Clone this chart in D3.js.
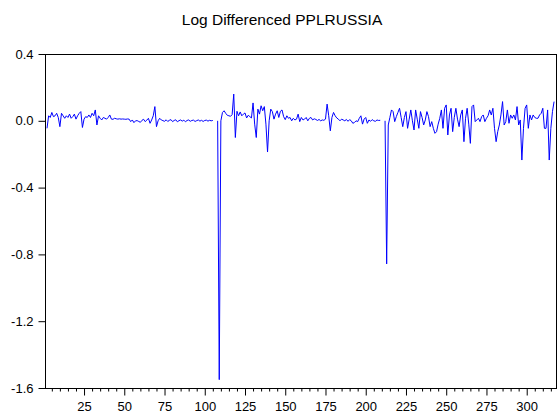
<!DOCTYPE html>
<html>
<head>
<meta charset="utf-8">
<script src="https://cdn.jsdelivr.net/npm/d3@7"></script>
<style>
  html, body { margin: 0; padding: 0; background: #fff; }
  svg { display: block; }
  text { font-family: "Liberation Sans", Arial, sans-serif; }
</style>
</head>
<body>
<svg id="chart" width="558" height="417"></svg>
<script>
const titleText = "Log Differenced PPLRUSSIA";
const obsStart = 1;
const obsValues = [
  null,
  -0.045, 0.03, 0.02, 0.05, 0.025, 0.03, 0.045, 0.02, -0.035,
  0.045, 0.03, 0.015, 0.03, 0.02, 0.04, 0.015, 0.025, 0.04, 0.01,
  0.03, 0.045, 0.055, -0.04, 0.01, 0.025, 0.02, 0.035, 0.02, 0.045,
  0.03, 0.065, -0.025, 0.03, 0.015, 0.005, 0.02, 0.015, 0.01, 0.02,
  0.035, 0.01, 0.009, 0.015, 0.012, 0.01, 0.012, 0.01, 0.011, 0.01,
  0.009, 0.011, 0.01, -0.005, 0.005, -0.011, 0.0, 0.001, -0.004, -0.009,
  0.003, 0.009, -0.005, 0.004, 0.015, -0.015, 0.005, 0.03, 0.085, -0.035,
  0.0, 0.015, 0.005, 0.001, -0.003, 0.006, -0.004, 0.003, 0.007, -0.005,
  0.002, 0.006, -0.006, 0.001, 0.005, -0.002, 0.004, -0.006, 0.002, 0.005,
  -0.003, 0.002, 0.004, -0.004, 0.001, 0.005, -0.002, 0.003, -0.004, 0.002,
  0.004, -0.002, 0.003, 0.0, 0.002,
  null, null,
  0.0, -1.55, 0.0,
  0.05, 0.06, 0.045, 0.033, 0.03, 0.027, 0.037, 0.16, -0.1, 0.057,
  0.03, 0.053, 0.03, 0.04, 0.047, 0.017, 0.033, 0.025, 0.017, 0.107,
  -0.02, -0.1, 0.07, 0.04, 0.09, 0.06, 0.085, -0.02, -0.187, 0.0,
  0.07, 0.055, 0.01, 0.04, 0.06, 0.02, 0.057, 0.065, 0.025, 0.007,
  0.03, 0.015, 0.02, 0.0, 0.015, 0.005, 0.01, 0.04, -0.005, 0.02,
  0.005, 0.01, 0.02, 0.0, 0.015, 0.02, 0.005, 0.012, 0.008, 0.002,
  0.008, 0.0, 0.005, 0.003, 0.01, 0.1, 0.03, -0.06, 0.02, 0.05,
  0.03, 0.017, 0.01, 0.0, 0.01, 0.005, 0.0, 0.008, -0.003, 0.007,
  0.0, -0.015, -0.01, 0.0, -0.005, 0.015, 0.03, -0.02, 0.01, 0.02,
  -0.015, 0.005, -0.003, 0.007, 0.0, -0.003, 0.005, 0.002, 0.003,
  null, null,
  0.0, -0.857, -0.025, 0.02, 0.065, 0.055, -0.005, 0.025, 0.05,
  0.075, 0.02, -0.035, 0.02, 0.055, -0.045, 0.01, 0.065, 0.0, -0.055,
  0.065, 0.01, -0.045, 0.055, 0.02, -0.025, 0.005, 0.055, 0.025, -0.035,
  -0.005, -0.045, -0.075, -0.065, -0.02, 0.015, 0.065, -0.045, 0.075, 0.095,
  -0.085, 0.035, 0.075, -0.065, 0.02, 0.075, 0.01, -0.035, 0.035, 0.065,
  -0.125, 0.015, 0.075, -0.02, -0.135, 0.085, 0.095, -0.005, 0.005, 0.015,
  -0.005, 0.025, 0.035, -0.005, 0.015, 0.03, 0.065, 0.035, 0.075, -0.045,
  -0.125, -0.065, -0.025, 0.035, 0.115, -0.025, -0.005, 0.065, -0.015, 0.035,
  0.015, 0.035, 0.005, 0.085, -0.025, 0.005, -0.235, -0.045, 0.075, 0.095,
  -0.045, 0.035, 0.005, 0.035, 0.02, 0.015, 0.015, 0.035, 0.045, 0.075,
  -0.045, -0.045, 0.065, -0.235, -0.045, 0.055, 0.115
];
const xMajorTicks = [25, 50, 75, 100, 125, 150, 175, 200, 225, 250, 275, 300];
const xMinorTicks = d3.range(5, 320, 5);
const yTicks = [0.4, 0.0, -0.4, -0.8, -1.2, -1.6];
const yTickLabels = ["0.4", "0.0", "-0.4", "-0.8", "-1.2", "-1.6"];

const data = obsValues.map((v, k) => ({ i: obsStart + k, v: v }));

const L = 45, R = 556, T = 54, B = 388;
const svg = d3.select("#chart");

const x = d3.scaleLinear().domain([0.75, 318.2]).range([L, R]);
const y = d3.scaleLinear().domain([-1.6, 0.4]).range([B, T]);

// title
svg.append("text")
  .attr("x", 282).attr("y", 25)
  .attr("text-anchor", "middle")
  .attr("font-size", "15.5px")
  .attr("fill", "#000")
  .text(titleText);

// line
const line = d3.line()
  .defined(d => d.v !== null)
  .x(d => x(d.i))
  .y(d => y(d.v));

svg.append("path")
  .datum(data)
  .attr("fill", "none")
  .attr("stroke", "#0000ff")
  .attr("stroke-width", 1)
  .attr("stroke-linejoin", "round")
  .attr("d", line);

// y axis
const yAxis = d3.axisLeft(y)
  .tickValues(yTicks)
  .tickSize(7)
  .tickPadding(5)
  .tickFormat((d, k) => yTickLabels[k]);
const gy = svg.append("g").attr("transform", `translate(${L + 0.5},0)`).call(yAxis);
gy.select(".domain").remove();
gy.selectAll("text").attr("font-size", "13px").attr("font-family", "Liberation Sans, Arial, sans-serif").attr("fill", "#000");

// x axis minor ticks
const xMinor = d3.axisBottom(x).tickValues(xMinorTicks.filter(t => t % 25 !== 0 && x(t) < R)).tickSize(3).tickFormat("");
const gxm = svg.append("g").attr("transform", `translate(0,${B + 0.5})`).call(xMinor);
gxm.select(".domain").remove();

// x axis major ticks
const xAxis = d3.axisBottom(x).tickValues(xMajorTicks).tickSize(7).tickPadding(6).tickFormat(d => String(d));
const gx = svg.append("g").attr("transform", `translate(0,${B + 0.5})`).call(xAxis);
gx.select(".domain").remove();
gx.selectAll("text").attr("font-size", "13px").attr("font-family", "Liberation Sans, Arial, sans-serif").attr("fill", "#000");

svg.selectAll(".tick line").attr("stroke", "#000");

// frame
svg.append("rect")
  .attr("x", L + 0.5).attr("y", T + 0.5)
  .attr("width", R - L).attr("height", B - T)
  .attr("fill", "none")
  .attr("stroke", "#000")
  .attr("stroke-width", 1);
</script>
</body>
</html>
